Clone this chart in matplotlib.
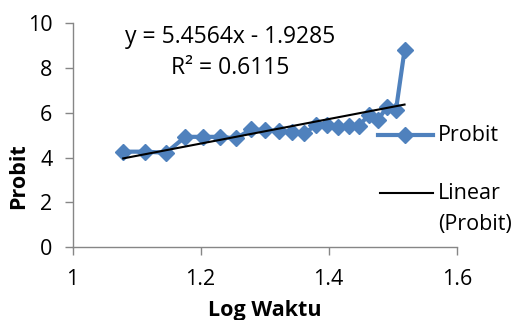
import numpy as np
import matplotlib.pyplot as plt
from matplotlib.lines import Line2D

# time in minutes -> log10
waktu = [12, 13, 14, 15, 16, 17, 18, 19, 20, 21, 22,
         23, 24, 25, 26, 27, 28, 29, 30, 31, 32, 33]
probit = [4.26, 4.26, 4.21, 4.92, 4.92, 4.92, 4.85, 5.25, 5.22, 5.17, 5.15,
          5.07, 5.44, 5.44, 5.37, 5.40, 5.40, 5.89, 5.67, 6.27, 6.12, 8.78]
slope = 5.4564
intercept = -1.9285
r2 = 0.6115

log_waktu = np.log10(waktu)

plt.rcParams['font.family'] = ['Open Sans', 'DejaVu Sans']
blue = '#4F81BD'
gray = '#868686'
fs = 15.5

fig = plt.figure(figsize=(5.19, 3.2), dpi=100)
ax = fig.add_axes([0.1397, 0.227, 0.7403, 0.702])

ax.plot(log_waktu, probit, color=blue, lw=3, marker='D', ms=8.5,
        mec=blue, mfc=blue, zorder=2)

xs = np.array([log_waktu.min(), log_waktu.max()])
ax.plot(xs, slope * xs + intercept, color='black', lw=1.5, zorder=3)

ax.set_xlim(1, 1.6)
ax.set_ylim(0, 10)
ax.set_xticks([1, 1.2, 1.4, 1.6])
ax.set_xticklabels(['1', '1.2', '1.4', '1.6'])
ax.set_yticks([0, 2, 4, 6, 8, 10])

for s in ['top', 'right']:
    ax.spines[s].set_visible(False)
for s in ['left', 'bottom']:
    ax.spines[s].set_color(gray)
    ax.spines[s].set_linewidth(1)
ax.tick_params(colors=gray, labelcolor='black', labelsize=fs, length=5.5, width=1)
ax.tick_params(axis='y', pad=9)
ax.tick_params(axis='x', pad=10)

ax.set_xlabel('Log Waktu', fontsize=fs, fontweight='bold')
ax.set_ylabel('Probit', fontsize=fs, fontweight='bold')
ax.xaxis.set_label_coords(0.5, -0.235)
ax.yaxis.set_label_coords(-0.112, 0.317)

ax.text(0.41, 0.936, f'y = {slope}x - {abs(intercept)}', transform=ax.transAxes,
        ha='center', va='center', fontsize=16.5)
ax.text(0.41, 0.80, f'R² = {r2}', transform=ax.transAxes,
        ha='center', va='center', fontsize=16.5)

# legend drawn by hand so the trendline key sits on the first text line
fig.add_artist(Line2D([0.728, 0.834], [0.578, 0.578], color=blue, lw=3,
                      transform=fig.transFigure))
fig.add_artist(Line2D([0.781], [0.578], color=blue, marker='D', ms=8.5,
                      transform=fig.transFigure))
fig.add_artist(Line2D([0.732, 0.834], [0.397, 0.397], color='black', lw=1.5,
                      transform=fig.transFigure))
fig.text(0.844, 0.578, 'Probit', ha='left', va='center', fontsize=fs)
fig.text(0.844, 0.394, 'Linear', ha='left', va='center', fontsize=fs)
fig.text(0.844, 0.297, '(Probit)', ha='left', va='center', fontsize=fs)

fig.savefig('out.png', dpi=100)
